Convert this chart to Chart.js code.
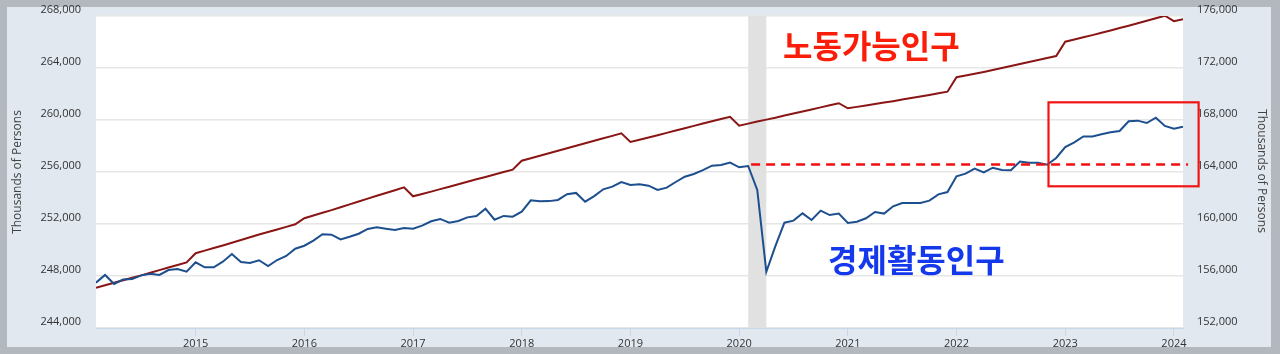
<!DOCTYPE html>
<html>
<head>
<meta charset="utf-8">
<script src="https://cdn.jsdelivr.net/npm/chart.js@4.4.1/dist/chart.umd.min.js"></script>
<style>
  html, body { margin: 0; padding: 0; background: #b2b8be; }
  #wrap { width: 1280px; height: 354px; }
</style>
</head>
<body>
<div id="wrap"><canvas id="chart" width="1280" height="354"></canvas></div>
<script>
// monthly series, Feb 2014 .. Feb 2024
const startYear = 2014;
const startMonth = 2;

// civilian noninstitutional population (left axis)
const population = [
  247100, 247290, 247480, 247670, 247860, 248050, 248250, 248450, 248650, 248850, 249050,
  249750, 249950, 250150, 250350, 250560, 250770, 250980, 251190, 251390, 251580, 251780, 251980,
  252440, 252650, 252860, 253070, 253290, 253510, 253730, 253950, 254170, 254390, 254600, 254820,
  254130, 254310, 254490, 254680, 254870, 255060, 255250, 255440, 255620, 255810, 256000, 256180,
  256870, 257060, 257250, 257440, 257640, 257830, 258020, 258210, 258400, 258590, 258780, 258970,
  258310, 258480, 258650, 258830, 259010, 259190, 259370, 259550, 259730, 259910, 260080, 260250,
  259560, 259720, 259880, 260030, 260180, 260340, 260500, 260650, 260810, 260970, 261130, 261290,
  260900, 261010, 261120, 261230, 261340, 261450, 261570, 261690, 261810, 261930, 262050, 262180,
  263290, 263420, 263560, 263700, 263850, 264000, 264150, 264300, 264460, 264610, 264770, 264920,
  266020, 266190, 266360, 266530, 266710, 266890, 267070, 267250, 267440, 267630, 267830, 268020,
  267600, 267750
];

// civilian labor force (right axis)
const laborForce = [
  155490, 156080, 155390, 155740, 155760, 156050, 156180, 156080, 156460, 156540, 156330,
  157050, 156670, 156670, 157100, 157690, 157080, 157000, 157210, 156770, 157230, 157540, 158100,
  158330, 158720, 159210, 159180, 158820, 159020, 159250, 159620, 159750, 159640, 159540, 159690,
  159640, 159870, 160210, 160390, 160100, 160230, 160510, 160620, 161180, 160330, 160620, 160560,
  160950, 161820, 161750, 161760, 161850, 162290, 162390, 161720, 162150, 162670, 162870, 163230,
  163000, 163050, 162950, 162620, 162800, 163230, 163640, 163850, 164150, 164490, 164540, 164720,
  164360, 164460, 162620, 156330, 158300, 160100, 160260, 160820, 160310, 161030, 160690, 160800,
  160080, 160180, 160440, 160920, 160800, 161360, 161620, 161620, 161620, 161800, 162280, 162460,
  163670, 163870, 164260, 163970, 164330, 164150, 164130, 164800, 164720, 164720, 164560, 165080,
  165920, 166280, 166740, 166740, 166900, 167050, 167150, 167900, 167950, 167770, 168180, 167540,
  167330, 167490
];

const yearTicks = [2015, 2016, 2017, 2018, 2019, 2020, 2021, 2022, 2023, 2024];
const leftTicks = [244000, 248000, 252000, 256000, 260000, 264000, 268000];
const rightTicks = [152000, 156000, 160000, 164000, 168000, 172000, 176000];

// recession shading (Feb 2020 - Apr 2020)
const recession = [2020 + 1 / 12, 2020 + 3 / 12];

// annotations
const dashLevel = 164640;
const dashFrom = 2020.11, dashTo = 2024.13;
const boxX = [2022.846, 2024.227];
const boxY = [162900, 169360];
const labelTop = { text: '노동가능인구', x: 2021.216, y: 265680 };
const labelBottom = { text: '경제활동인구', x: 2021.63, y: 157270 };

const xOf = i => startYear + (startMonth - 1 + i) / 12;
const popPoints = population.map((v, i) => ({ x: xOf(i), y: v }));
const lfPoints = laborForce.map((v, i) => ({ x: xOf(i), y: v }));

const fmt = v => Number(v).toLocaleString('en-US');

const fredFrame = {
  id: 'fredFrame',
  beforeDraw(chart) {
    const { ctx, chartArea: a } = chart;
    ctx.save();
    ctx.fillStyle = '#b2b8be';
    ctx.fillRect(0, 0, chart.width, chart.height);
    ctx.fillStyle = '#e1e8f0';
    ctx.fillRect(7, 7, 1264, 340);
    ctx.fillStyle = '#ffffff';
    ctx.fillRect(a.left, a.top - 1, a.right - a.left, a.bottom - a.top + 1);
    ctx.restore();
  },
  beforeDatasetsDraw(chart) {
    const { ctx, chartArea: a, scales } = chart;
    const x0 = scales.x.getPixelForValue(recession[0]);
    const x1 = scales.x.getPixelForValue(recession[1]);
    ctx.save();
    ctx.fillStyle = '#e1e1e1';
    ctx.fillRect(x0, a.top, x1 - x0, a.bottom - a.top);
    ctx.restore();
  },
  afterDatasetsDraw(chart) {
    const { ctx, scales } = chart;
    const x = scales.x, yl = scales.y, yr = scales.y1;
    ctx.save();
    // dashed level line
    ctx.strokeStyle = '#f01010';
    ctx.lineWidth = 2.5;
    ctx.setLineDash([9, 6]);
    const dy = Math.round(yr.getPixelForValue(dashLevel)) + 0.5;
    ctx.beginPath();
    ctx.moveTo(x.getPixelForValue(dashFrom), dy);
    ctx.lineTo(x.getPixelForValue(dashTo), dy);
    ctx.stroke();
    ctx.setLineDash([]);
    // box
    ctx.strokeStyle = '#f21414';
    ctx.lineWidth = 2.2;
    const bx0 = x.getPixelForValue(boxX[0]), bx1 = x.getPixelForValue(boxX[1]);
    const by0 = yr.getPixelForValue(boxY[1]), by1 = yr.getPixelForValue(boxY[0]);
    ctx.strokeRect(bx0, by0, bx1 - bx0, by1 - by0);
    // korean labels
    ctx.font = 'bold 32px "Noto Sans CJK KR"';
    ctx.textAlign = 'center';
    ctx.textBaseline = 'middle';
    ctx.fillStyle = '#fa1e0a';
    ctx.fillText(labelTop.text, x.getPixelForValue(labelTop.x), yl.getPixelForValue(labelTop.y));
    ctx.fillStyle = '#1438ec';
    ctx.fillText(labelBottom.text, x.getPixelForValue(labelBottom.x), yr.getPixelForValue(labelBottom.y));
    ctx.restore();
  },
  afterDraw(chart) {
    const { ctx } = chart;
    ctx.save();
    ctx.font = '12px "Open Sans"';
    ctx.fillStyle = '#444';
    ctx.textAlign = 'center';
    ctx.textBaseline = 'middle';
    ctx.translate(18, 172);
    ctx.rotate(-Math.PI / 2);
    ctx.fillText('Thousands of Persons', 0, 0);
    ctx.restore();
    ctx.save();
    ctx.font = '12px "Open Sans"';
    ctx.fillStyle = '#444';
    ctx.textAlign = 'center';
    ctx.textBaseline = 'middle';
    ctx.translate(1261, 171);
    ctx.rotate(Math.PI / 2);
    ctx.fillText('Thousands of Persons', 0, 0);
    ctx.restore();
  }
};

const tickFont = { family: '"Open Sans"', size: 11 };

new Chart(document.getElementById('chart').getContext('2d'), {
  type: 'line',
  data: {
    datasets: [{
      label: 'Civilian Labor Force',
      data: lfPoints,
      yAxisID: 'y1',
      borderColor: '#1d4f8f',
      borderWidth: 2,
      pointRadius: 0,
      tension: 0,
    }, {
      label: 'Population Level',
      data: popPoints,
      yAxisID: 'y',
      borderColor: '#8a1515',
      borderWidth: 2,
      pointRadius: 0,
      tension: 0,
    }]
  },
  options: {
    responsive: false,
    animation: false,
    layout: { padding: { top: 16, left: 0, right: 0, bottom: 0 } },
    plugins: { legend: { display: false }, tooltip: { enabled: false } },
    scales: {
      x: {
        type: 'linear',
        min: xOf(0),
        max: xOf(population.length - 1),
        afterBuildTicks: s => { s.ticks = yearTicks.map(v => ({ value: v })); },
        afterFit: s => { s.height = 26; },
        grid: { drawOnChartArea: false, drawTicks: true, tickLength: 8, color: '#c8d6ea' },
        border: { display: true, color: '#c8d6ea', width: 1 },
        ticks: { font: tickFont, color: '#333', padding: 1, maxRotation: 0, callback: v => String(v) }
      },
      y: {
        position: 'left',
        min: 244000,
        max: 268000,
        afterBuildTicks: s => { s.ticks = leftTicks.map(v => ({ value: v })); },
        afterFit: s => { s.width = 96; },
        grid: { color: '#e6e6e6', lineWidth: 1.5, drawTicks: true, tickLength: 15, tickColor: 'rgba(0,0,0,0)' },
        border: { display: false },
        ticks: { font: tickFont, color: '#333', padding: 0, labelOffset: -6, callback: fmt }
      },
      y1: {
        position: 'right',
        min: 152000,
        max: 176000,
        afterBuildTicks: s => { s.ticks = rightTicks.map(v => ({ value: v })); },
        afterFit: s => { s.width = 97; },
        grid: { drawOnChartArea: false, drawTicks: true, tickLength: 14, tickColor: 'rgba(0,0,0,0)' },
        border: { display: false },
        ticks: { font: tickFont, color: '#333', padding: 0, labelOffset: -6, callback: fmt }
      }
    }
  },
  plugins: [fredFrame]
});
</script>
</body>
</html>
